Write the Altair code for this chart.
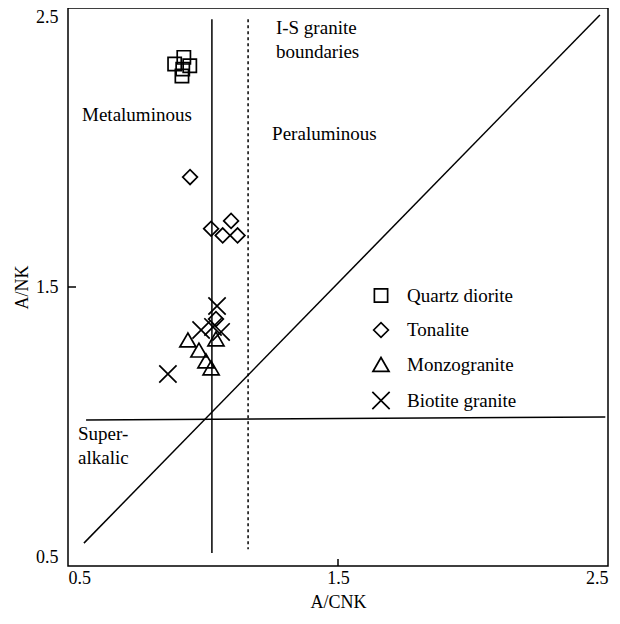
import altair as alt
import pandas as pd

# ---- data ----
rock_types = ["Quartz diorite", "Tonalite", "Monzogranite", "Biotite granite"]
shapes = ["square", "diamond", "triangle-up", "M-1,-1L1,1M-1,1L1,-1"]
marker_sizes = [175, 300, 250, 270]

qd_x = [0.895, 0.929, 0.951, 0.925, 0.922]
qd_y = [2.299, 2.323, 2.293, 2.281, 2.256]
ton_x = [0.952, 1.030, 1.104, 1.073, 1.128, 1.048]
ton_y = [1.894, 1.709, 1.737, 1.685, 1.685, 1.385]
mon_x = [0.944, 0.985, 1.011, 1.030, 1.048]
mon_y = [1.310, 1.274, 1.235, 1.210, 1.314]
bio_x = [1.052, 0.870, 0.993, 1.037, 1.067]
bio_y = [1.432, 1.188, 1.346, 1.357, 1.339]

# boundary lines: (x, y) -> (x2, y2)
line_names = ["meta", "is", "alk", "diag"]
line_x = [1.033, 1.167, 0.567, 0.559]
line_y = [2.46, 2.46, 1.023, 0.582]
line_x2 = [1.033, 1.167, 2.49, 2.47]
line_y2 = [0.547, 0.56, 1.034, 2.475]
line_dash = ["solid", "dashed", "solid", "solid"]

# annotations
note_text = ["Metaluminous", "Peraluminous", "I-S granite", "boundaries", "Super-", "alkalic"]
note_x = [0.552, 1.256, 1.270, 1.270, 0.537, 0.537]
note_y = [2.116, 2.048, 2.428, 2.342, 0.973, 0.887]

axis_ticks = [0.5, 1.5, 2.5]
inner_tick = [1.5]

FONT = "Liberation Serif"

rows = []
for name, xs, ys in [("Quartz diorite", qd_x, qd_y), ("Tonalite", ton_x, ton_y),
                     ("Monzogranite", mon_x, mon_y), ("Biotite granite", bio_x, bio_y)]:
    for a, b in zip(xs, ys):
        rows.append({"rock": name, "acnk": a, "ank": b})
pts = pd.DataFrame(rows)

lines = pd.DataFrame({"name": line_names, "x": line_x, "y": line_y,
                      "x2": line_x2, "y2": line_y2, "dash": line_dash})
notes = pd.DataFrame({"t": note_text, "x": note_x, "y": note_y})
ticks = pd.DataFrame({"v": inner_tick})

xscale = alt.Scale(domain=[0.5, 2.5], nice=False, zero=False)
yscale = alt.Scale(domain=[0.5, 2.5], nice=False, zero=False)

axis_style = dict(labelFont=FONT, titleFont=FONT, labelFontSize=18, titleFontSize=18,
                  titleFontWeight="normal", labelColor="black", titleColor="black",
                  ticks=False, domain=False, grid=False, values=axis_ticks, format=".1f")

xaxis = alt.Axis(title="A/CNK", labelFlush=True, labelFlushOffset=0,
                 labelPadding=3, titlePadding=6, **axis_style)
yaxis = alt.Axis(title="A/NK", labelFlush=True, labelFlushOffset=0,
                 labelPadding=10, titlePadding=4, **axis_style)


def X(field):
    return alt.X(field, scale=xscale, axis=xaxis)


def Y(field):
    return alt.Y(field, scale=yscale, axis=yaxis)


legend = alt.Legend(title=None, orient="none", legendX=303, legendY=278,
                    symbolStrokeWidth=1.7, symbolStrokeColor="black",
                    labelFont=FONT, labelFontSize=19, labelColor="black",
                    labelOffset=16, rowPadding=12.5, padding=0)

points = alt.Chart(pts).mark_point(filled=False, stroke="black", strokeWidth=1.7,
                                   opacity=1).encode(
    x=X("acnk:Q"),
    y=Y("ank:Q"),
    size=alt.Size("rock:N", scale=alt.Scale(domain=rock_types, range=marker_sizes),
                  legend=legend),
    shape=alt.Shape("rock:N", scale=alt.Scale(domain=rock_types, range=shapes),
                    legend=legend),
)

solid = alt.Chart(lines[lines.dash == "solid"]).mark_rule(color="black", strokeWidth=1.5).encode(
    x=X("x:Q"), y=Y("y:Q"), x2="x2:Q", y2="y2:Q")
dashed = alt.Chart(lines[lines.dash == "dashed"]).mark_rule(
    color="black", strokeWidth=1.5, strokeDash=[3, 3]).encode(
    x=X("x:Q"), y=Y("y:Q"), x2="x2:Q", y2="y2:Q")

text = alt.Chart(notes).mark_text(font=FONT, fontSize=19, align="left", baseline="middle",
                                  color="black").encode(
    x=X("x:Q"), y=Y("y:Q"), text="t:N")

xtick = alt.Chart(ticks).mark_rule(color="black", strokeWidth=1.5).encode(
    x=X("v:Q"), y=alt.value(558), y2=alt.value(551))
ytick = alt.Chart(ticks).mark_rule(color="black", strokeWidth=1.5).encode(
    y=Y("v:Q"), x=alt.value(0), x2=alt.value(8))

chart = alt.layer(points, solid, dashed, xtick, ytick, text).properties(
    width=540, height=558,
    background="white",
    autosize=alt.AutoSizeParams(type="none"),
    padding={"left": 60, "top": 0, "right": 4, "bottom": 50},
).configure_view(stroke="black", strokeWidth=1.5)

chart.save("out.html", embed_options={"renderer": "svg", "actions": False})
